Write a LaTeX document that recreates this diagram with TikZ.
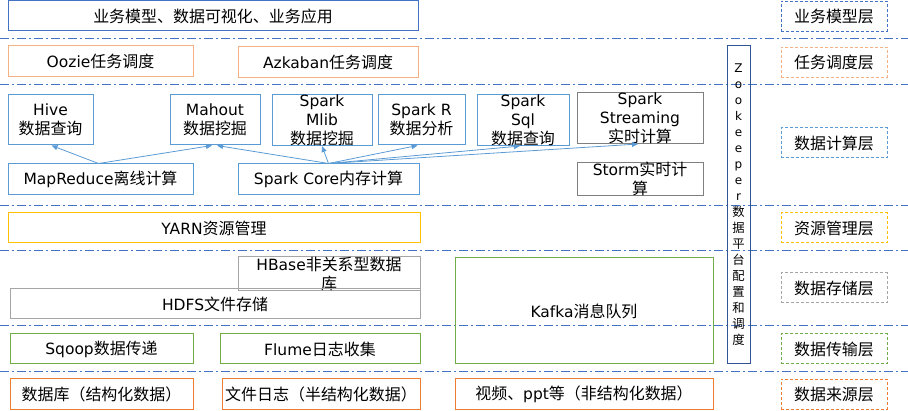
\documentclass[tikz,border=0pt]{standalone}
\usepackage{fontspec}
\setmainfont{DejaVu Sans}
\newfontfamily\cjk{Noto Sans CJK SC}[Scale=1.03]
\newcommand\zh[1]{{\cjk #1}}
\usetikzlibrary{arrows.meta}

\definecolor{cblue}{HTML}{4472C4}
\definecolor{clblue}{HTML}{5B9BD5}
\definecolor{cpeach}{HTML}{F4B183}
\definecolor{cgold}{HTML}{FFC000}
\definecolor{cgray}{HTML}{A5A5A5}
\definecolor{cdgray}{HTML}{7F7F7F}
\definecolor{cgreen}{HTML}{70AD47}
\definecolor{corange}{HTML}{ED7D31}
\definecolor{cnavy}{HTML}{2F5597}

\tikzset{
    box/.style={draw=#1, line width=1pt, inner sep=0pt, align=center,
        font=\fontsize{15.5}{19}\selectfont},
    wh/.style 2 args={minimum width=#1pt, minimum height=#2pt},
    layer/.style={box=#1, dash pattern=on 3pt off 2pt, wh={106}{30}},
    sep/.style={cblue, line width=1pt, dash pattern=on 9pt off 3pt on 2pt off 3pt},
    feed/.style={clblue, line width=0.8pt, -{Triangle[length=6pt,width=5pt]}},
}

\begin{document}
\begin{tikzpicture}[x=1pt, y=-1pt]
    \useasboundingbox (0,0) rectangle (908,411);

    % layer separators
    \foreach \y in {39, 85, 206, 251, 326, 372}
        \draw[sep] (0,\y) -- (908,\y);

    % application / scheduling
    \node[box=cblue, wh={410}{30}] (app) at (213,16) {\zh{业务模型、数据可视化、业务应用}};
    \node[box=cpeach, wh={185}{31}] (oozie) at (100.5,61.5) {Oozie\zh{任务调度}};
    \node[box=cpeach, wh={180}{31}] (azkaban) at (328,62.5) {Azkaban\zh{任务调度}};

    % computing
    \node[box=clblue, wh={85}{50}] (hive) at (50.5,120) {Hive\\\zh{数据查询}};
    \node[box=clblue, wh={90}{50}] (mahout) at (215,120) {Mahout\\\zh{数据挖掘}};
    \node[box=clblue, wh={100}{50}] (mlib) at (322,120) {Spark\\Mlib\\\zh{数据挖掘}};
    \node[box=clblue, wh={87}{50}] (sparkr) at (421.5,120) {Spark R\\\zh{数据分析}};
    \node[box=clblue, wh={92}{50}] (sql) at (523,120) {Spark\\Sql\\\zh{数据查询}};
    \node[box=cdgray, wh={126}{50}] (stream) at (640,118) {Spark\\Streaming\\\zh{实时计算}};
    \node[box=clblue, wh={185}{31}] (mr) at (100.5,179.5) {MapReduce\zh{离线计算}};
    \node[box=clblue, wh={181}{31}] (core) at (328.5,179.5) {Spark Core\zh{内存计算}};
    \node[box=cdgray, wh={126}{30}] (storm) at (640,179) {Storm\zh{实时计}\\\zh{算}};

    \draw[feed] ([xshift=-2pt]mr.north) -- ([xshift=1pt]hive.south);
    \draw[feed] ([xshift=-2pt]mr.north) -- ([xshift=-3pt]mahout.south);
    \draw[feed] (core.north) -- ([xshift=2pt]mahout.south);
    \draw[feed] (core.north) -- (mlib.south);
    \draw[feed] (core.north) -- ([xshift=-4pt]sparkr.south);
    \draw[feed] (core.north) -- ([xshift=-3pt]sql.south);
    \draw[feed] (core.north) -- ([xshift=-2pt]stream.south);

    % resources / storage
    \node[box=cgold, wh={412}{30}] (yarn) at (214,228) {YARN\zh{资源管理}};
    \node[box=cgray, wh={182}{31}] (hbase) at (329,273.5) {HBase\zh{非关系型数据}\\\zh{库}};
    \node[box=cgray, wh={410}{30}] (hdfs) at (215,304) {HDFS\zh{文件存储}};
    \node[box=cgreen, wh={258}{106}] (kafka) at (584,311) {Kafka\zh{消息队列}};

    % transport / sources
    \node[box=cgreen, wh={183}{30}] (sqoop) at (101.5,349) {Sqoop\zh{数据传递}};
    \node[box=cgreen, wh={200}{30}] (flume) at (320,349) {Flume\zh{日志收集}};
    \node[box=corange, wh={183}{31}] (db) at (101.5,394.5) {\zh{数据库（结构化数据）}};
    \node[box=corange, wh={198}{31}] (logs) at (321,394.5) {\zh{文件日志（半结构化数据）}};
    \node[box=corange, wh={258}{31}] (video) at (584,394.5) {\zh{视频、}ppt\zh{等（非结构化数据）}};

    % zookeeper column
    \node[box=cnavy, wh={23}{318}, font=\fontsize{12}{16}\selectfont] (zk) at (738.5,205)
        {Z\\o\\o\\k\\e\\e\\p\\e\\r\\\zh{数}\\\zh{据}\\\zh{平}\\\zh{台}\\\zh{配}\\\zh{置}\\\zh{和}\\\zh{调}\\\zh{度}};

    % layer names
    \foreach[count=\i] \y/\c/\t in {16.5/cblue/业务模型层, 62.5/cpeach/任务调度层,
            143/clblue/数据计算层, 228/cgold/资源管理层, 288/cgray/数据存储层,
            349/cgreen/数据传输层, 394.5/corange/数据来源层}
        \node[layer=\c] (layer\i) at (834,\y) {\zh{\t}};
\end{tikzpicture}
\end{document}
